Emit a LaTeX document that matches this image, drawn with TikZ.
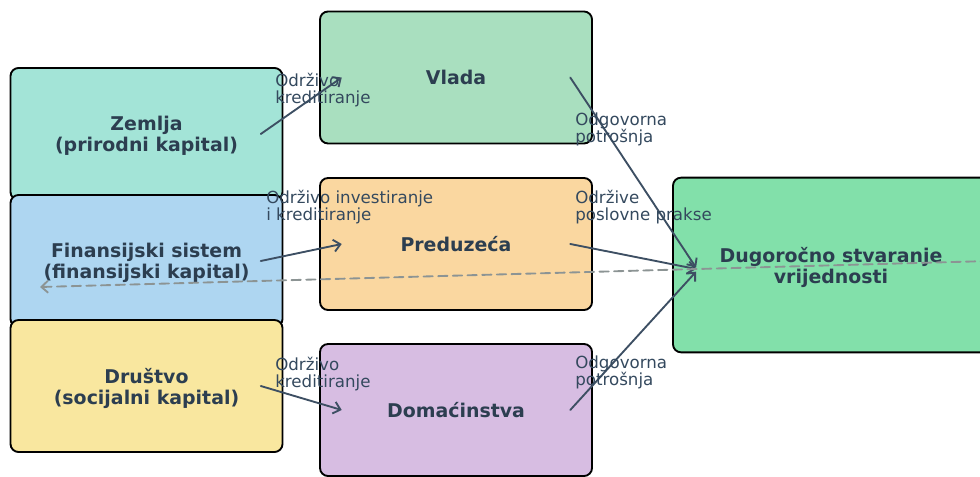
\documentclass[tikz,border=0pt]{standalone}
\usepackage{fontspec}
\setmainfont{DejaVu Sans}
\usepackage{tikz}
\usetikzlibrary{arrows.meta}

\definecolor{textdark}{HTML}{2C3E50}
\definecolor{labeltext}{HTML}{34495E}
\definecolor{flowcol}{HTML}{3D4F63}
\definecolor{feedcol}{HTML}{8C9494}
\definecolor{zemljafill}{HTML}{A3E4D7}
\definecolor{finfill}{HTML}{AED6F1}
\definecolor{drustvofill}{HTML}{F9E79F}
\definecolor{vladafill}{HTML}{A9DFBF}
\definecolor{predfill}{HTML}{FAD7A0}
\definecolor{domfill}{HTML}{D7BDE2}
\definecolor{dugfill}{HTML}{82E0AA}

\begin{document}
\begin{tikzpicture}[
    x=0.75pt,
    y=-0.75pt,
    line cap=round,
    line join=round,
    box/.style={draw=black, line width=1.4pt, rounded corners=6pt,
        align=center, inner sep=0pt, text depth=0pt, text=textdark,
        font=\fontsize{14.2}{15.75}\selectfont\bfseries,
        minimum width=204pt, minimum height=99pt},
    flow/.style={-{Straight Barb[length=5pt,width=9pt]},
        draw=flowcol, line width=1.4pt},
    flowlabel/.style={anchor=north west, inner sep=0pt, align=left,
        text=labeltext, font=\fontsize{12.5}{12.75}\selectfont}
]

\useasboundingbox (0,0) rectangle (980,477);

%------------------------------------------------
% Capital boxes (left column)
%------------------------------------------------
\node[box, fill=zemljafill] (zemlja) at (146.5,134)
    {Zemlja\\(prirodni kapital)};

\node[box, fill=finfill] (fin) at (146.5,261)
    {Finansijski sistem\\(finansijski kapital)};

\node[box, fill=drustvofill] (drustvo) at (146.5,386)
    {Društvo\\(socijalni kapital)};

%------------------------------------------------
% Sector boxes (middle column)
%------------------------------------------------
\node[box, fill=vladafill] (vlada) at (456,77.5) {Vlada};

\node[box, fill=predfill] (pred) at (456,244) {Preduzeća};

\node[box, fill=domfill] (dom) at (456,410) {Domaćinstva};

%------------------------------------------------
% Outcome box
%------------------------------------------------
\node[box, fill=dugfill, minimum width=237pt, minimum height=131pt]
    (dug) at (831,265) {Dugoročno stvaranje\\vrijednosti};

%------------------------------------------------
% Flows capital -> sectors
%------------------------------------------------
\draw[flow] ([xshift=-17pt]zemlja.east) -- ([xshift=17pt]vlada.west);
\draw[flow] ([xshift=-17pt]fin.east) -- ([xshift=17pt]pred.west);
\draw[flow] ([xshift=-17pt]drustvo.east) -- ([xshift=17pt]dom.west);

%------------------------------------------------
% Flows sectors -> outcome
%------------------------------------------------
\draw[flow] ([xshift=-17pt]vlada.east) -- ([xshift=18pt,yshift=-2pt]dug.west);
\draw[flow] ([xshift=-17pt]pred.east) -- ([xshift=18pt,yshift=-3pt]dug.west);
\draw[flow] ([xshift=-17pt]dom.east) -- ([xshift=18pt,yshift=-5pt]dug.west);

%------------------------------------------------
% Flow labels
%------------------------------------------------
\node[flowlabel] (l-zemlja) at (275,73) {Održivo\\kreditiranje};
\node[flowlabel] (l-fin) at (266,190) {Održivo investiranje\\i kreditiranje};
\node[flowlabel] (l-drustvo) at (275,357) {Održivo\\kreditiranje};

\node[flowlabel] (l-vlada) at (575,113) {Odgovorna\\potrošnja};
\node[flowlabel] (l-pred) at (575,190) {Održive\\poslovne prakse};
\node[flowlabel] (l-dom) at (575,356) {Odgovorna\\potrošnja};

%------------------------------------------------
% Dashed feedback to the financial system
%------------------------------------------------
\coordinate (feed-end) at (40,287);
\draw[-{Straight Barb[length=5pt,width=9pt]}, draw=feedcol,
    line width=1.4pt, dashed, dash pattern=on 7pt off 4pt]
    ([yshift=3pt]dug.east) -- (feed-end);

\end{tikzpicture}
\end{document}
